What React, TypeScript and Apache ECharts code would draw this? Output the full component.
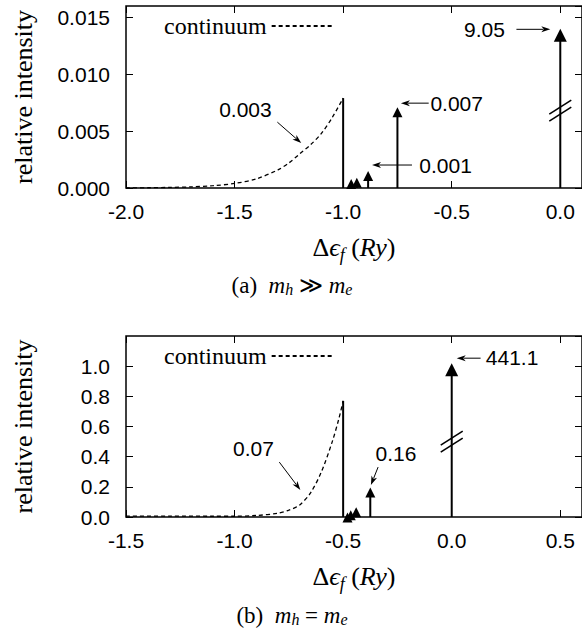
import { useEffect, useRef } from 'react';
import * as echarts from 'echarts';

// ---------- panel (a): m_h >> m_e ----------
const xRangeA = [-2.0, 0.1];
const yRangeA = [0, 0.016];
const xStepA = 0.5;
const yStepA = 0.005;
const contAX = [-2.0, -1.9, -1.8, -1.7, -1.6, -1.5, -1.4, -1.3, -1.25, -1.2, -1.15, -1.1, -1.05, -1.0];
const contAY = [0.00001, 0.00002, 0.00005, 0.0001, 0.0002, 0.0004, 0.0008, 0.0016, 0.0022, 0.003, 0.0038, 0.0048, 0.0062, 0.0079];
const edgeAX = [-1.0, -1.0];
const edgeAY = [0, 0.0079];
const peakAX = [-0.963, -0.937, -0.885, -0.75, 0.0];
const peakAY = [0.0008, 0.0009, 0.0015, 0.0071, 0.014];
const breakAX = [0.0];
const breakAY = [0.0068];
const annAText = ['0.003', '0.001', '0.007', '9.05'];
const annAPos = [[-1.45, 0.00693], [-0.528, 0.00202], [-0.477, 0.00746], [-0.349, 0.01395]];
const annAFrom = [[-1.303, 0.00579], [-0.683, 0.00202], [-0.606, 0.00746], [-0.202, 0.01395]];
const annATo = [[-1.193, 0.00395], [-0.867, 0.00202], [-0.734, 0.00746], [-0.046, 0.01395]];

// ---------- panel (b): m_h = m_e ----------
const xRangeB = [-1.5, 0.6];
const yRangeB = [0, 1.2];
const xStepB = 0.5;
const yStepB = 0.2;
const contBX = [-1.5, -1.3, -1.1, -1.0, -0.9, -0.8, -0.75, -0.7, -0.65, -0.6, -0.55, -0.52, -0.5];
const contBY = [0.006, 0.006, 0.005, 0.005, 0.01, 0.025, 0.045, 0.08, 0.16, 0.3, 0.5, 0.65, 0.77];
const edgeBX = [-0.5, -0.5];
const edgeBY = [0, 0.77];
const peakBX = [-0.48, -0.465, -0.44, -0.375, 0.0];
const peakBY = [0.03, 0.045, 0.065, 0.195, 1.02];
const breakBX = [0.0];
const breakBY = [0.5];
const annBText = ['0.07', '0.16', '441.1'];
const annBPos = [[-0.913, 0.457], [-0.257, 0.424], [0.278, 1.06]];
const annBFrom = [[-0.794, 0.364], [-0.339, 0.331], [0.133, 1.053]];
const annBTo = [[-0.697, 0.179], [-0.372, 0.212], [0.023, 1.053]];

const legendName = 'continuum';
const yName = 'relative intensity';
const xName = '{n|Δ}{i|ϵ}{s|f}{n| (}{i|Ry}{n|)}';
const captionA = '{n|(a)}{n|  }{i|m}{s|h}{n| ≫ }{i|m}{s|e}';
const captionB = '{n|(b)}{n|  }{i|m}{s|h}{n| = }{i|m}{s|e}';

const SERIF = "'Liberation Serif', 'DejaVu Serif', 'Times New Roman', serif";
const SANS = "'Liberation Sans', Arial, Helvetica, sans-serif";
const INK = '#000';

const zip = (xs: number[], ys: number[]) => xs.map((x, i) => [x, ys[i]]);

const mathRich = {
  n: { fontFamily: SERIF, fontSize: 26, lineHeight: 34, color: INK },
  i: { fontFamily: SERIF, fontStyle: 'italic', fontSize: 26, lineHeight: 34, color: INK },
  s: { fontFamily: SERIF, fontStyle: 'italic', fontSize: 18, lineHeight: 18, verticalAlign: 'bottom', color: INK },
};
const capRich = {
  n: { fontFamily: SERIF, fontSize: 23, lineHeight: 24, color: INK },
  i: { fontFamily: SERIF, fontStyle: 'italic', fontSize: 23, lineHeight: 24, color: INK },
  s: { fontFamily: SERIF, fontStyle: 'italic', fontSize: 16, lineHeight: 14, verticalAlign: 'bottom', color: INK },
};

const peakRender = (bigIndex: number) => (params: any, api: any) => {
  const x = api.value(0);
  const v = api.value(1);
  const base = api.coord([x, 0]);
  const tip = api.coord([x, v]);
  const big = params.dataIndex === bigIndex;
  const w = big ? 13 : 10;
  const h = big ? 13 : 10;
  return {
    type: 'group',
    children: [
      {
        type: 'line',
        shape: { x1: base[0], y1: base[1], x2: tip[0], y2: Math.min(tip[1] + h - 1, base[1]) },
        style: { stroke: INK, lineWidth: 2 },
      },
      {
        type: 'polygon',
        shape: { points: [[tip[0], tip[1]], [tip[0] - w / 2, tip[1] + h], [tip[0] + w / 2, tip[1] + h]] },
        style: { fill: INK },
      },
    ],
  };
};

const breakRender = (params: any, api: any) => {
  const c = api.coord([api.value(0), api.value(1)]);
  return {
    type: 'group',
    children: [-3.5, 3.5].map((d) => ({
      type: 'line',
      shape: { x1: c[0] - 11, y1: c[1] + 7 + d, x2: c[0] + 11, y2: c[1] - 7 + d },
      style: { stroke: INK, lineWidth: 1.6 },
    })),
  };
};

const annRender = (texts: string[]) => (params: any, api: any) => {
  const i = params.dataIndex;
  const lp = api.coord([api.value(0), api.value(1)]);
  const p1 = api.coord([api.value(2), api.value(3)]);
  const p2 = api.coord([api.value(4), api.value(5)]);
  const dx = p2[0] - p1[0];
  const dy = p2[1] - p1[1];
  const L = Math.hypot(dx, dy) || 1;
  const ux = dx / L;
  const uy = dy / L;
  const hl = 9;
  const hw = 3;
  const bx = p2[0] - ux * hl;
  const by = p2[1] - uy * hl;
  return {
    type: 'group',
    children: [
      {
        type: 'text',
        style: {
          text: texts[i], x: lp[0], y: lp[1], align: 'center', verticalAlign: 'middle',
          fill: INK, fontSize: 21, fontFamily: SANS,
        },
      },
      { type: 'line', shape: { x1: p1[0], y1: p1[1], x2: bx + ux * 2, y2: by + uy * 2 }, style: { stroke: INK, lineWidth: 1 } },
      {
        type: 'polygon',
        shape: {
          points: [
            [p2[0], p2[1]],
            [bx - uy * hw, by + ux * hw],
            [bx + ux * 2.5, by + uy * 2.5],
            [bx + uy * hw, by - ux * hw],
          ],
        },
        style: { fill: INK },
      },
    ],
  };
};

const annData = (pos: number[][], from: number[][], to: number[][]) =>
  pos.map((p, i) => [p[0], p[1], from[i][0], from[i][1], to[i][0], to[i][1]]);

function xAxes(grid: number, range: number[], step: number) {
  const common = {
    type: 'value', gridIndex: grid, min: range[0], max: range[1], interval: step,
    axisLine: { show: false, onZero: false }, splitLine: { show: false },
    axisTick: { inside: true, length: 7, lineStyle: { color: INK, width: 1 } },
  };
  return [
    {
      ...common, position: 'bottom',
      axisLabel: {
        formatter: (v: number) => v.toFixed(1), showMaxLabel: false, margin: 13,
        color: INK, fontFamily: SANS, fontSize: 21,
      },
      name: xName, nameLocation: 'middle', nameGap: 42,
      nameTextStyle: { rich: mathRich, color: INK },
    },
    { ...common, position: 'top', axisLabel: { show: false } },
  ];
}

function yAxes(grid: number, range: number[], step: number, digits: number) {
  const common = {
    type: 'value', gridIndex: grid, min: range[0], max: range[1], interval: step,
    axisLine: { show: false, onZero: false }, splitLine: { show: false },
    axisTick: { inside: true, length: 7, lineStyle: { color: INK, width: 1 } },
  };
  return [
    {
      ...common, position: 'left',
      axisLabel: {
        formatter: (v: number) => v.toFixed(digits), showMaxLabel: false, margin: 16,
        color: INK, fontFamily: SANS, fontSize: 21,
      },
      name: yName, nameLocation: 'middle', nameGap: 90, nameRotate: 90,
      nameTextStyle: { fontFamily: SERIF, fontSize: 26, color: INK },
    },
    { ...common, position: 'right', axisLabel: { show: false } },
  ];
}

function legendFor(top: number) {
  return {
    data: [legendName], left: 164, top, align: 'right', orient: 'horizontal',
    itemWidth: 63, itemHeight: 12, padding: 0, selectedMode: false,
    itemStyle: { opacity: 0, borderWidth: 0 },
    textStyle: { fontFamily: SERIF, fontSize: 24, color: INK },
  };
}

function panelSeries(idx: number, cx: number[], cy: number[], ex: number[], ey: number[],
  px: number[], py: number[], bx: number[], by: number[], texts: string[],
  pos: number[][], from: number[][], to: number[][]) {
  const axes = { xAxisIndex: idx * 2, yAxisIndex: idx * 2 };
  return [
    {
      ...axes, type: 'line', name: legendName, data: zip(cx, cy), symbol: 'none', smooth: 0.3,
      lineStyle: { color: INK, width: 1.3, type: [4, 3] }, itemStyle: { color: INK },
    },
    {
      ...axes, type: 'line', name: 'edge', data: zip(ex, ey), symbol: 'none',
      lineStyle: { color: INK, width: 2 },
    },
    { ...axes, type: 'custom', name: 'peaks', data: zip(px, py), renderItem: peakRender(px.length - 1) },
    { ...axes, type: 'custom', name: 'break', data: zip(bx, by), renderItem: breakRender },
    {
      ...axes, type: 'custom', name: 'labels', data: annData(pos, from, to),
      encode: { x: [0, 2, 4], y: [1, 3, 5] }, renderItem: annRender(texts),
    },
  ];
}

export default function App() {
  const ref = useRef<HTMLDivElement>(null);
  useEffect(() => {
    if (!ref.current) return;
    const chart = echarts.init(ref.current, null, { renderer: 'svg' });
    const gridStyle = { show: true, borderColor: INK, borderWidth: 1.5, backgroundColor: 'transparent', containLabel: false };
    chart.setOption({
      animation: false,
      backgroundColor: '#fff',
      textStyle: { fontFamily: SERIF },
      grid: [
        { ...gridStyle, left: 126, top: 6, width: 458, height: 182 },
        { ...gridStyle, left: 126, top: 336, width: 458, height: 181 },
      ],
      legend: [legendFor(14), legendFor(344)],
      xAxis: [...xAxes(0, xRangeA, xStepA), ...xAxes(1, xRangeB, xStepB)],
      yAxis: [...yAxes(0, yRangeA, yStepA, 3), ...yAxes(1, yRangeB, yStepB, 1)],
      graphic: [
        { type: 'text', x: 292, y: 285, style: { text: captionA, rich: capRich, align: 'center', verticalAlign: 'middle' } },
        { type: 'text', x: 292, y: 615, style: { text: captionB, rich: capRich, align: 'center', verticalAlign: 'middle' } },
      ],
      series: [
        ...panelSeries(0, contAX, contAY, edgeAX, edgeAY, peakAX, peakAY, breakAX, breakAY, annAText, annAPos, annAFrom, annATo),
        ...panelSeries(1, contBX, contBY, edgeBX, edgeBY, peakBX, peakBY, breakBX, breakBY, annBText, annBPos, annBFrom, annBTo),
      ],
    });
    return () => chart.dispose();
  }, []);
  return <div ref={ref} style={{ position: 'absolute', left: 0, top: 0, width: 582, height: 629 }} />;
}
